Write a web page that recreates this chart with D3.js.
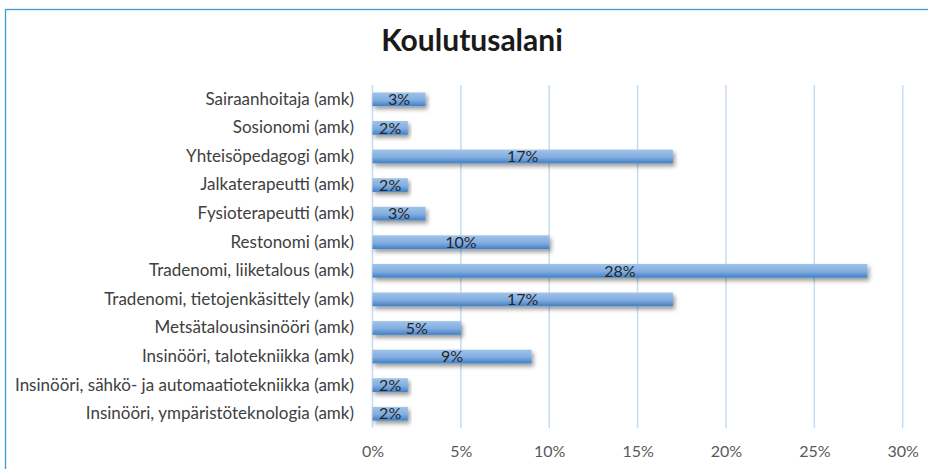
<!DOCTYPE html>
<meta charset="utf-8">
<style>
    body { margin: 0; background: #fff; }
    text { font-variant-ligatures: none; }
    .axis text { font: 16px Lato, sans-serif; fill: #595959; }
    .axis path, .axis line { display: none; }
    .grid line { stroke: #c6dcf1; stroke-width: 1.5; }
</style>
<svg class="chart"></svg>
<script src="https://d3js.org/d3.v7.min.js"></script>
<script>
    const categories = [
        "Sairaanhoitaja (amk)",
        "Sosionomi (amk)",
        "Yhteisöpedagogi (amk)",
        "Jalkaterapeutti (amk)",
        "Fysioterapeutti (amk)",
        "Restonomi (amk)",
        "Tradenomi, liiketalous (amk)",
        "Tradenomi, tietojenkäsittely (amk)",
        "Metsätalousinsinööri (amk)",
        "Insinööri, talotekniikka (amk)",
        "Insinööri, sähkö- ja automaatiotekniikka (amk)",
        "Insinööri, ympäristöteknologia (amk)"
    ];
    const values = [3, 2, 17, 2, 3, 10, 28, 17, 5, 9, 2, 2];
    const ticks = [0, 5, 10, 15, 20, 25, 30];

    const width = 928, height = 469;
    const plot = {left: 372.5, right: 902.7, top: 85, bottom: 428};

    const svg = d3.select(".chart")
        .attr("width", width)
        .attr("height", height);

    const defs = svg.append("defs");
    const grad = defs.append("linearGradient")
        .attr("id", "barGrad")
        .attr("x1", 0).attr("y1", 0).attr("x2", 0).attr("y2", 1);
    grad.append("stop").attr("offset", "0%").attr("stop-color", "#9fc4e9");
    grad.append("stop").attr("offset", "55%").attr("stop-color", "#82ade0");
    grad.append("stop").attr("offset", "100%").attr("stop-color", "#3f7fc6");

    const shadow = defs.append("filter")
        .attr("id", "shadow")
        .attr("x", "-5%").attr("y", "-30%")
        .attr("width", "115%").attr("height", "190%");
    shadow.append("feDropShadow")
        .attr("dx", 2).attr("dy", 3)
        .attr("stdDeviation", 2)
        .attr("flood-color", "#000")
        .attr("flood-opacity", 0.4);

    // chart border (right/bottom edges run off the picture)
    svg.append("rect")
        .attr("x", 5.5).attr("y", 9.5)
        .attr("width", 940).attr("height", 480)
        .attr("fill", "#fff")
        .attr("stroke", "#3d9ad6")
        .attr("stroke-width", 1.3);

    svg.append("text")
        .attr("x", 472)
        .attr("y", 51)
        .attr("text-anchor", "middle")
        .attr("font-family", "Lato, sans-serif")
        .attr("font-weight", "bold")
        .attr("font-size", 30)
        .attr("fill", "#1a1a1a")
        .text("Koulutusalani");

    const x = d3.scaleLinear()
        .domain([0, 30])
        .range([plot.left, plot.right]);

    const y = d3.scaleBand()
        .domain(categories)
        .range([plot.top, plot.bottom])
        .paddingInner(0.52)
        .paddingOuter(0.26);

    svg.append("g")
        .attr("class", "grid")
        .selectAll("line")
        .data(ticks)
        .join("line")
        .attr("x1", d => x(d)).attr("x2", d => x(d))
        .attr("y1", plot.top).attr("y2", plot.bottom);

    svg.append("g")
        .attr("class", "x axis")
        .attr("transform", `translate(0,${plot.bottom})`)
        .call(d3.axisBottom(x).tickValues(ticks).tickSize(0).tickPadding(18)
            .tickFormat(d => d + "%"));

    svg.append("g")
        .attr("class", "y axis")
        .attr("transform", `translate(${plot.left - 18.5},0)`)
        .call(d3.axisLeft(y).tickSize(0).tickPadding(0))
        .selectAll("text")
        .style("font-size", "17px")
        .style("fill", "#404040");

    const bars = svg.append("g")
        .selectAll("g")
        .data(values)
        .join("g");

    bars.append("rect")
        .attr("x", x(0))
        .attr("y", (d, i) => y(categories[i]))
        .attr("width", d => x(d) - x(0))
        .attr("height", y.bandwidth())
        .attr("fill", "url(#barGrad)")
        .attr("filter", "url(#shadow)");

    bars.append("text")
        .attr("x", d => (x(0) + x(d)) / 2)
        .attr("y", (d, i) => y(categories[i]) + y.bandwidth() / 2)
        .attr("dy", "0.36em")
        .attr("text-anchor", "middle")
        .attr("font-family", "Lato, sans-serif")
        .attr("font-size", 16)
        .attr("fill", "#262626")
        .text(d => d + "%");
</script>
